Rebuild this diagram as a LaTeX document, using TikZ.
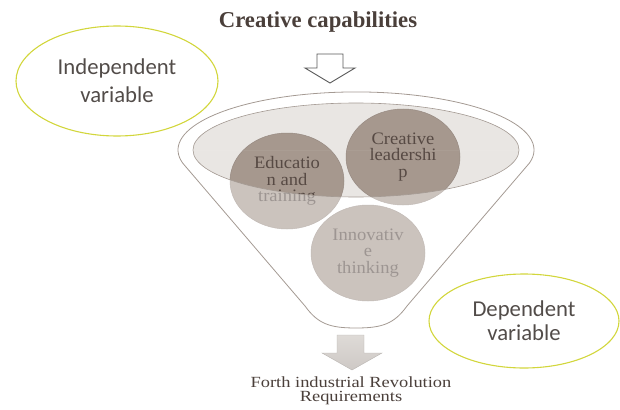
\documentclass[tikz,border=0pt]{standalone}
\usepackage{fontspec}
\setmainfont{Liberation Serif}
\newfontfamily\labelsans{Carlito}
\newfontfamily\wideserif[FakeStretch=1.19]{Liberation Serif}
\newfontfamily\ballserif[FakeStretch=1.06]{Liberation Serif}
\usetikzlibrary{shapes.geometric}

\definecolor{titleink}{HTML}{4A3F3A}
\definecolor{labelink}{HTML}{524C49}
\definecolor{ballink}{HTML}{574A44}
\definecolor{ovalline}{HTML}{D2D63C}
\definecolor{rimline}{HTML}{A49A93}
\definecolor{rimfill}{HTML}{E9E6E3}
\definecolor{ballfill}{HTML}{A6988E}
\definecolor{ballline}{HTML}{978A82}
\definecolor{arrowtop}{HTML}{DEDAD7}
\definecolor{arrowbottom}{HTML}{CEC9C5}

\tikzset{
  varoval/.style={ellipse, draw=ovalline, line width=1.1pt, inner sep=0pt,
    text=labelink, font=\labelsans\fontsize{22.7}{28}\selectfont, align=center},
  ball/.style={ellipse, fill=ballfill, draw=ballline, line width=0.5pt,
    minimum width=114pt, minimum height=96pt, inner sep=0pt,
    text=ballink, font=\ballserif\fontsize{17.5}{16.5}\selectfont, align=center},
  rim/.style={draw=rimline, line width=0.8pt},
  funnelpath/.style={},
}
% outline of the funnel body: upper rim arc, two sides, rounded spout
\newcommand{\funneloutline}{%
  (182.6,163) arc[start angle=167, end angle=373, x radius=178, y radius=58]
  -- (407,306) .. controls (394,324) and (382,328) .. (356,328)
  .. controls (330,328) and (318,324) .. (305,306) -- cycle}

\begin{document}
\begin{tikzpicture}[x=1pt,y=-1pt]
\useasboundingbox (0,0) rectangle (620,409);

% heading
\node[anchor=base, text=titleink, font=\bfseries\fontsize{22.7}{27}\selectfont]
  (title) at (318,28) {Creative capabilities};

% side labels
\node[varoval, minimum width=202pt, minimum height=110pt] (indep) at (117,81)
  {Independent\\variable};
\node[varoval, minimum width=190pt, minimum height=94pt,
  font=\labelsans\fontsize{22.7}{24}\selectfont] (dep) at (524,321)
  {Dependent\\variable};

% hollow arrow into the funnel
\draw[draw=black!65, fill=white, line width=0.9pt, line join=miter]
  (317,54) -- (343,54) -- (343,68) -- (355,68) -- (330,83) -- (305,68) -- (317,68) -- cycle;

% inner rim of the funnel
\fill[rimfill] (356,150) ellipse [x radius=163, y radius=47];

% the three ingredients
\node[ball] (edu) at (287,181) {Educatio\\n and\\training};
\node[ball] (lead) at (403,157) {Creative\\leadershi\\p};
\node[ball] (innov) at (368,253) {Innovativ\\e\\thinking};

% translucent front of the funnel below the rim
\begin{scope}
  \clip \funneloutline;
  \clip (150,150) rectangle (545,345);
  \fill[white, opacity=0.42, even odd rule]
    (150,150) rectangle (545,345)
    (356,150) ellipse [x radius=163, y radius=47];
\end{scope}

% rim outline
\draw[draw=rimline, line width=0.6pt] (356,150) ellipse [x radius=163, y radius=47];

% funnel body outline
\draw[rim] \funneloutline;

% output arrow
\draw[draw=arrowbottom!90!black, line width=0.4pt, top color=arrowtop, bottom color=arrowbottom]
  (337,335) -- (364,335) -- (364,353) -- (382,353) -- (352,370) -- (322,353) -- (337,353) -- cycle;

% result
\node[text=titleink, font=\wideserif\fontsize{15.5}{14}\selectfont, align=center]
  (result) at (351,391) {Forth industrial Revolution\\Requirements};
\end{tikzpicture}
\end{document}
